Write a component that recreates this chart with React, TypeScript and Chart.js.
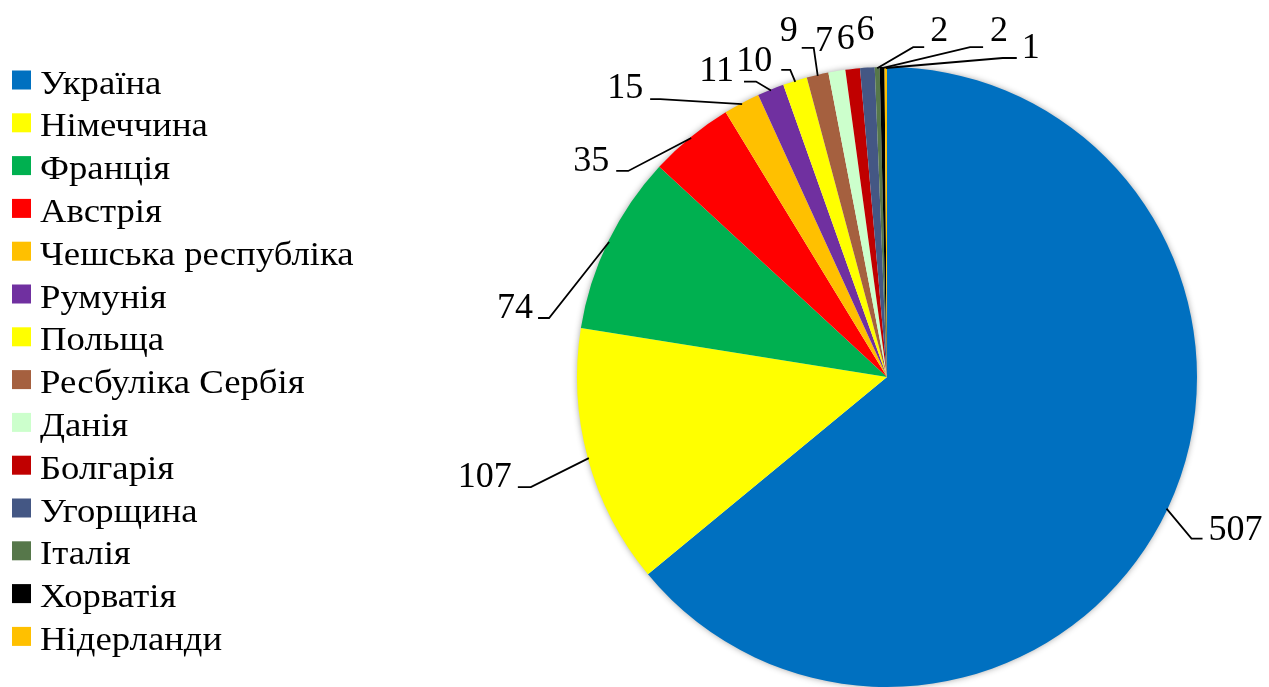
import React, { useEffect, useRef } from "react";
import { Chart, registerables } from "chart.js";

Chart.register(...registerables);

const countries = [
  "Україна",
  "Німеччина",
  "Франція",
  "Австрія",
  "Чешська республіка",
  "Румунія",
  "Польща",
  "Ресбуліка Сербія",
  "Данія",
  "Болгарія",
  "Угорщина",
  "Італія",
  "Хорватія",
  "Нідерланди",
];

const counts = [507, 107, 74, 35, 15, 11, 10, 9, 7, 6, 6, 2, 2, 1];

const colors = [
  "#0070C0",
  "#FFFF00",
  "#00B050",
  "#FF0000",
  "#FFC000",
  "#7030A0",
  "#FFFF00",
  "#A5603F",
  "#CCFFCC",
  "#C00000",
  "#445784",
  "#56774A",
  "#000000",
  "#FFC000",
];

// label placement: [elbowDx, elbowDy, horizontalLen, textDx, textDy, align, drawLeader]
const labelLayout: [number, number, number, number, number, CanvasTextAlign, boolean][] = [
  [25, 30, 11, 6, 1, "left", true],
  [-58, 29, -13, -6, 0, "right", true],
  [-60, 76, -11, -5, 0, "right", true],
  [-63, 33, -12, -7, 0, "right", true],
  [-82, -5, -10, -7, -1, "right", true],
  [-15, -9, -12, -10, -1, "right", true],
  [-5, -12, -9, -9, 1, "right", true],
  [-4, -28, -12, -4, -7, "right", true],
  [0, 0, 0, -13, -21, "center", false],
  [0, 0, 0, -7, -21, "center", false],
  [0, 0, 0, -2, -29, "center", false],
  [36, -21, 11, 6, -6, "left", true],
  [88, -21, 13, 7, -6, "left", true],
  [117, -10, 14, 5, 0, "left", true],
];

const LABEL_FONT = '36px "Liberation Serif", "Times New Roman", serif';
const LEGEND_FONT = '34px "Liberation Serif", "Times New Roman", serif';
const LEGEND_STRETCH = 1.08;

const shadowPlugin = {
  id: "pieShadow",
  beforeDatasetsDraw(chart: any) {
    const meta = chart.getDatasetMeta(0);
    const arc = meta.data[0];
    if (!arc) return;
    const { x, y, outerRadius } = arc.getProps(["x", "y", "outerRadius"], true);
    const ctx = chart.ctx;
    ctx.save();
    ctx.shadowColor = "rgba(0,0,0,0.45)";
    ctx.shadowBlur = 7;
    ctx.beginPath();
    ctx.arc(x, y, outerRadius - 1, 0, Math.PI * 2);
    ctx.fillStyle = "#ffffff";
    ctx.fill();
    ctx.restore();
  },
};

const labelPlugin = {
  id: "leaderLabels",
  afterDatasetsDraw(chart: any) {
    const ctx = chart.ctx;
    const meta = chart.getDatasetMeta(0);
    const values = chart.data.datasets[0].data as number[];
    ctx.save();
    ctx.font = LABEL_FONT;
    ctx.fillStyle = "#000";
    ctx.strokeStyle = "#000";
    ctx.lineWidth = 1.8;
    ctx.textBaseline = "alphabetic";
    meta.data.forEach((el: any, i: number) => {
      const p = el.getProps(["x", "y", "startAngle", "endAngle", "outerRadius"], true);
      const mid = (p.startAngle + p.endAngle) / 2;
      const ax = p.x + Math.cos(mid) * (p.outerRadius - 1);
      const ay = p.y + Math.sin(mid) * (p.outerRadius - 1);
      const [edx, edy, hl, tdx, tdy, align, leader] = labelLayout[i];
      const ex = ax + edx;
      const ey = ay + edy;
      const hx = ex + hl;
      if (leader) {
        ctx.beginPath();
        ctx.moveTo(ax, ay);
        ctx.lineTo(ex, ey);
        ctx.lineTo(hx, ey);
        ctx.stroke();
      }
      ctx.textAlign = align;
      ctx.fillText(String(values[i]), hx + tdx, ey + tdy);
    });
    ctx.restore();
  },
};

const legendPlugin = {
  id: "sideLegend",
  afterDraw(chart: any) {
    const ctx = chart.ctx;
    const labels = chart.data.labels as string[];
    const bg = chart.data.datasets[0].backgroundColor as string[];
    const top = 80;
    const step = 42.8;
    ctx.save();
    ctx.font = LEGEND_FONT;
    ctx.textAlign = "left";
    ctx.textBaseline = "alphabetic";
    labels.forEach((label, i) => {
      const cy = top + i * step;
      ctx.fillStyle = bg[i];
      ctx.fillRect(12, cy - 9.5, 19, 19);
      ctx.fillStyle = "#000";
      ctx.save();
      ctx.translate(40, cy + 13.5);
      ctx.scale(LEGEND_STRETCH, 1);
      ctx.fillText(label, 0, 0);
      ctx.restore();
    });
    ctx.restore();
  },
};

export default function App() {
  const ref = useRef<HTMLCanvasElement | null>(null);

  useEffect(() => {
    if (!ref.current) return;
    const chart = new Chart(ref.current, {
      type: "pie",
      data: {
        labels: countries,
        datasets: [
          {
            data: counts,
            backgroundColor: colors,
            borderWidth: 0,
          },
        ],
      },
      options: {
        animation: false,
        responsive: false,
        devicePixelRatio: 1,
        layout: { padding: { left: 577, right: 72, top: 67, bottom: 0 } },
        plugins: {
          legend: { display: false },
          tooltip: { enabled: false },
        },
      },
      plugins: [shadowPlugin, labelPlugin, legendPlugin],
    });
    return () => chart.destroy();
  }, []);

  return (
    <div
      style={{
        position: "fixed",
        left: 0,
        top: 0,
        width: 1269,
        height: 687,
        background: "#ffffff",
      }}
    >
      <canvas ref={ref} width={1269} height={687} style={{ display: "block" }} />
    </div>
  );
}
